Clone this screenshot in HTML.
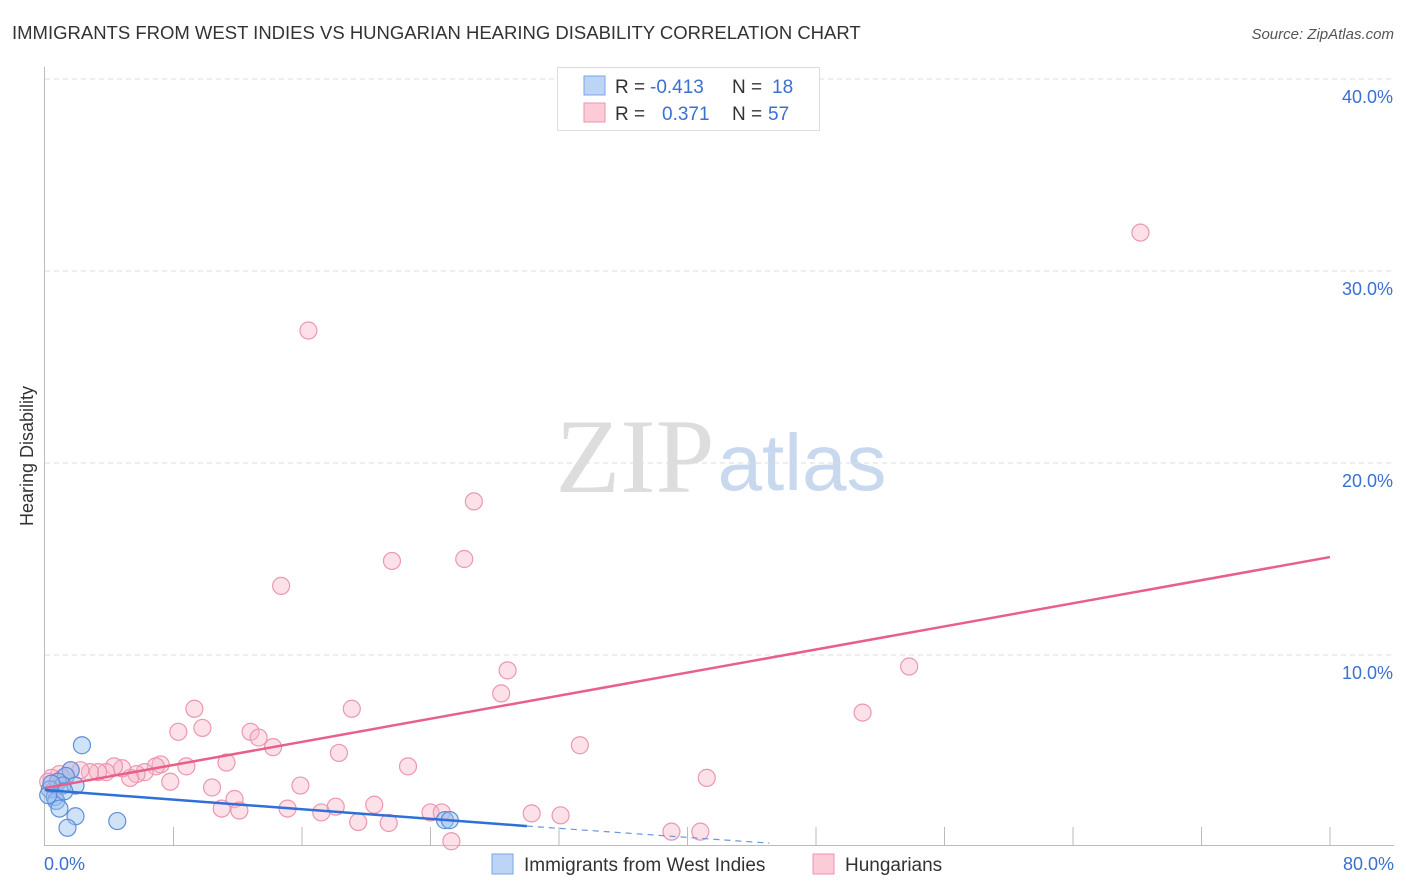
<!DOCTYPE html>
<html><head><meta charset="utf-8"><style>
body{margin:0;background:#fff;font-family:"Liberation Sans",sans-serif;}
svg{display:block}
</style></head><body>
<svg id="c" width="1406" height="892" xmlns="http://www.w3.org/2000/svg">
<text x="12" y="39" font-size="18.5" fill="#333">IMMIGRANTS FROM WEST INDIES VS HUNGARIAN HEARING DISABILITY CORRELATION CHART</text>
<text x="1394" y="39" font-size="15" fill="#555" font-style="italic" text-anchor="end">Source: ZipAtlas.com</text>
<text x="33" y="456" font-size="18" fill="#333" text-anchor="middle" transform="rotate(-90 33 456)">Hearing Disability</text>
<g>
<text x="635" y="492" font-size="106" fill="#ddd" font-family="Liberation Serif,serif" text-anchor="middle">ZIP</text>
<text x="802" y="490" font-size="80" fill="#c8d8ef" text-anchor="middle">atlas</text>
</g>
<g id="grid"></g><g id="axes"></g><g id="marks"></g>
<g>
<rect x="557.5" y="67.5" width="262" height="63" fill="#fff" stroke="#ddd"/>
<rect x="584" y="76" width="21" height="19" fill="#bcd4f6" stroke="#7aa6e6"/>
<rect x="584" y="103" width="21" height="19" fill="#fccbd8" stroke="#ef93ad"/>
<text x="615" y="93" font-size="19" fill="#333">R =</text><text x="650" y="93" font-size="19" fill="#3a70d0">-0.413</text>
<text x="732" y="93" font-size="19" fill="#333">N =</text><text x="772" y="93" font-size="19" fill="#3a70d0">18</text>
<text x="615" y="120" font-size="19" fill="#333">R =</text><text x="662" y="120" font-size="19" fill="#3a70d0">0.371</text>
<text x="732" y="120" font-size="19" fill="#333">N =</text><text x="768" y="120" font-size="19" fill="#3a70d0">57</text>
</g>
<g>
<rect x="492" y="854" width="21" height="20" fill="#bcd4f6" stroke="#7aa6e6"/>
<text x="524" y="871" font-size="19" fill="#333">Immigrants from West Indies</text>
<rect x="813" y="854" width="21" height="20" fill="#fccbd8" stroke="#ef93ad"/>
<text x="845" y="871" font-size="19" fill="#333">Hungarians</text>
</g>
</svg>
<script>
const yTicks=[10,20,30,40];
const yTickLabels=["10.0%","20.0%","30.0%","40.0%"];
const xLabels=["0.0%","80.0%"];
const pinkX=[68.2,16.4,26.7,21.6,26.1,14.7,28.8,53.8,28.4,50.9,9.3,19.1,8.3,9.8,12.8,13.3,14.2,33.3,18.3,22.6,11.3,8.8,7.2,6.9,6.2,5.7,5.3,4.8,4.3,3.8,3.3,2.8,2.2,1.6,0.9,0.4,0.2,41.2,15.9,7.8,10.4,11.8,11.0,12.1,15.1,17.2,18.1,20.5,19.5,21.4,24.0,24.7,30.3,32.1,39.0,40.8,25.3,1.1,0.6];
const pinkY=[32.0,26.9,18.0,14.9,15.0,13.6,9.2,9.4,8.0,7.0,7.2,7.2,6.0,6.2,6.0,5.7,5.2,5.3,4.9,4.2,4.4,4.2,4.3,4.2,3.9,3.8,3.6,4.1,4.2,3.9,3.9,3.9,4.0,4.0,3.8,3.6,3.4,3.6,3.2,3.4,3.1,2.5,2.0,1.9,2.0,1.8,2.1,2.2,1.3,1.25,1.8,1.8,1.75,1.65,0.8,0.8,0.3,3.6,3.0];
const blueX=[2.3,1.6,1.3,0.8,1.1,0.3,0.6,0.7,0.9,1.9,1.4,4.5,24.9,25.2,1.9,1.2,0.2,0.4];
const blueY=[5.3,4.0,3.7,3.4,3.2,3.0,2.6,2.4,2.0,1.6,1.0,1.35,1.4,1.4,3.2,2.9,2.7,3.3];
const pinkTrend=[[0,3.07],[80,15.1]];
const blueTrendSolid=[[0,2.97],[30,1.09]];
const blueTrendDash=[[30,1.09],[45.1,0.2]];
const sx=v=>45+v/80*1285, sy=v=>847-v*19.2;
const NS="http://www.w3.org/2000/svg";
function mk(p,t,a){const e=document.createElementNS(NS,t);for(const k in a)e.setAttribute(k,a[k]);p.appendChild(e);return e;}
const grid=document.getElementById('grid'),axes=document.getElementById('axes'),marks=document.getElementById('marks');
yTicks.forEach((t,i)=>{
 const l=mk(grid,'line',{x1:45,x2:1394,y1:sy(t),y2:sy(t),stroke:'#ddd','stroke-dasharray':'5,4'});
 
 
 const tx=mk(axes,'text',{x:1393,y:sy(t)+24,'font-size':18,fill:'#3a70d0','text-anchor':'end'});tx.textContent=yTickLabels[i];
 
 
});
const ya=mk(axes,'line',{x1:44.5,x2:44.5,y1:67,y2:846,stroke:'#bbb'});


const xa=mk(axes,'line',{x1:44,x2:1394,y1:845.5,y2:845.5,stroke:'#bbb'});


for(let i=1;i<=10;i++){const t=mk(axes,'line',{x1:sx(i*8),x2:sx(i*8),y1:827,y2:845,stroke:'#bbb'});
 
 }
[[0,'start',44],[80,'end',1394]].forEach((d,i)=>{const t=mk(axes,'text',{x:d[2],y:870,'font-size':18,fill:'#3a70d0','text-anchor':d[1]});t.textContent=xLabels[i];
 
 });
pinkX.forEach((x,i)=>{const c=mk(marks,'circle',{cx:sx(x),cy:sy(pinkY[i]),r:8.5,fill:'rgba(248,180,200,0.4)',stroke:'#eb97b0','stroke-width':1.2});
 
 });
blueX.forEach((x,i)=>{const c=mk(marks,'circle',{cx:sx(x),cy:sy(blueY[i]),r:8.5,fill:'rgba(150,190,240,0.45)',stroke:'#5f8fd8','stroke-width':1.2});
 
 });
function ln(p,col,dash,name){const l=mk(marks,'line',{x1:sx(p[0][0]),y1:sy(p[0][1]),x2:sx(p[1][0]),y2:sy(p[1][1]),stroke:col,'stroke-width':dash?1.2:2.5});if(dash)l.setAttribute('stroke-dasharray','6,5');
 
 }
ln(pinkTrend,'#e8608a',false,'hungarian-trendline');
ln(blueTrendSolid,'#2f6fd6',false,'west-indies-trendline');
ln(blueTrendDash,'#6a96dc',true,'west-indies-trendline-extension');
</script>
</body></html>
